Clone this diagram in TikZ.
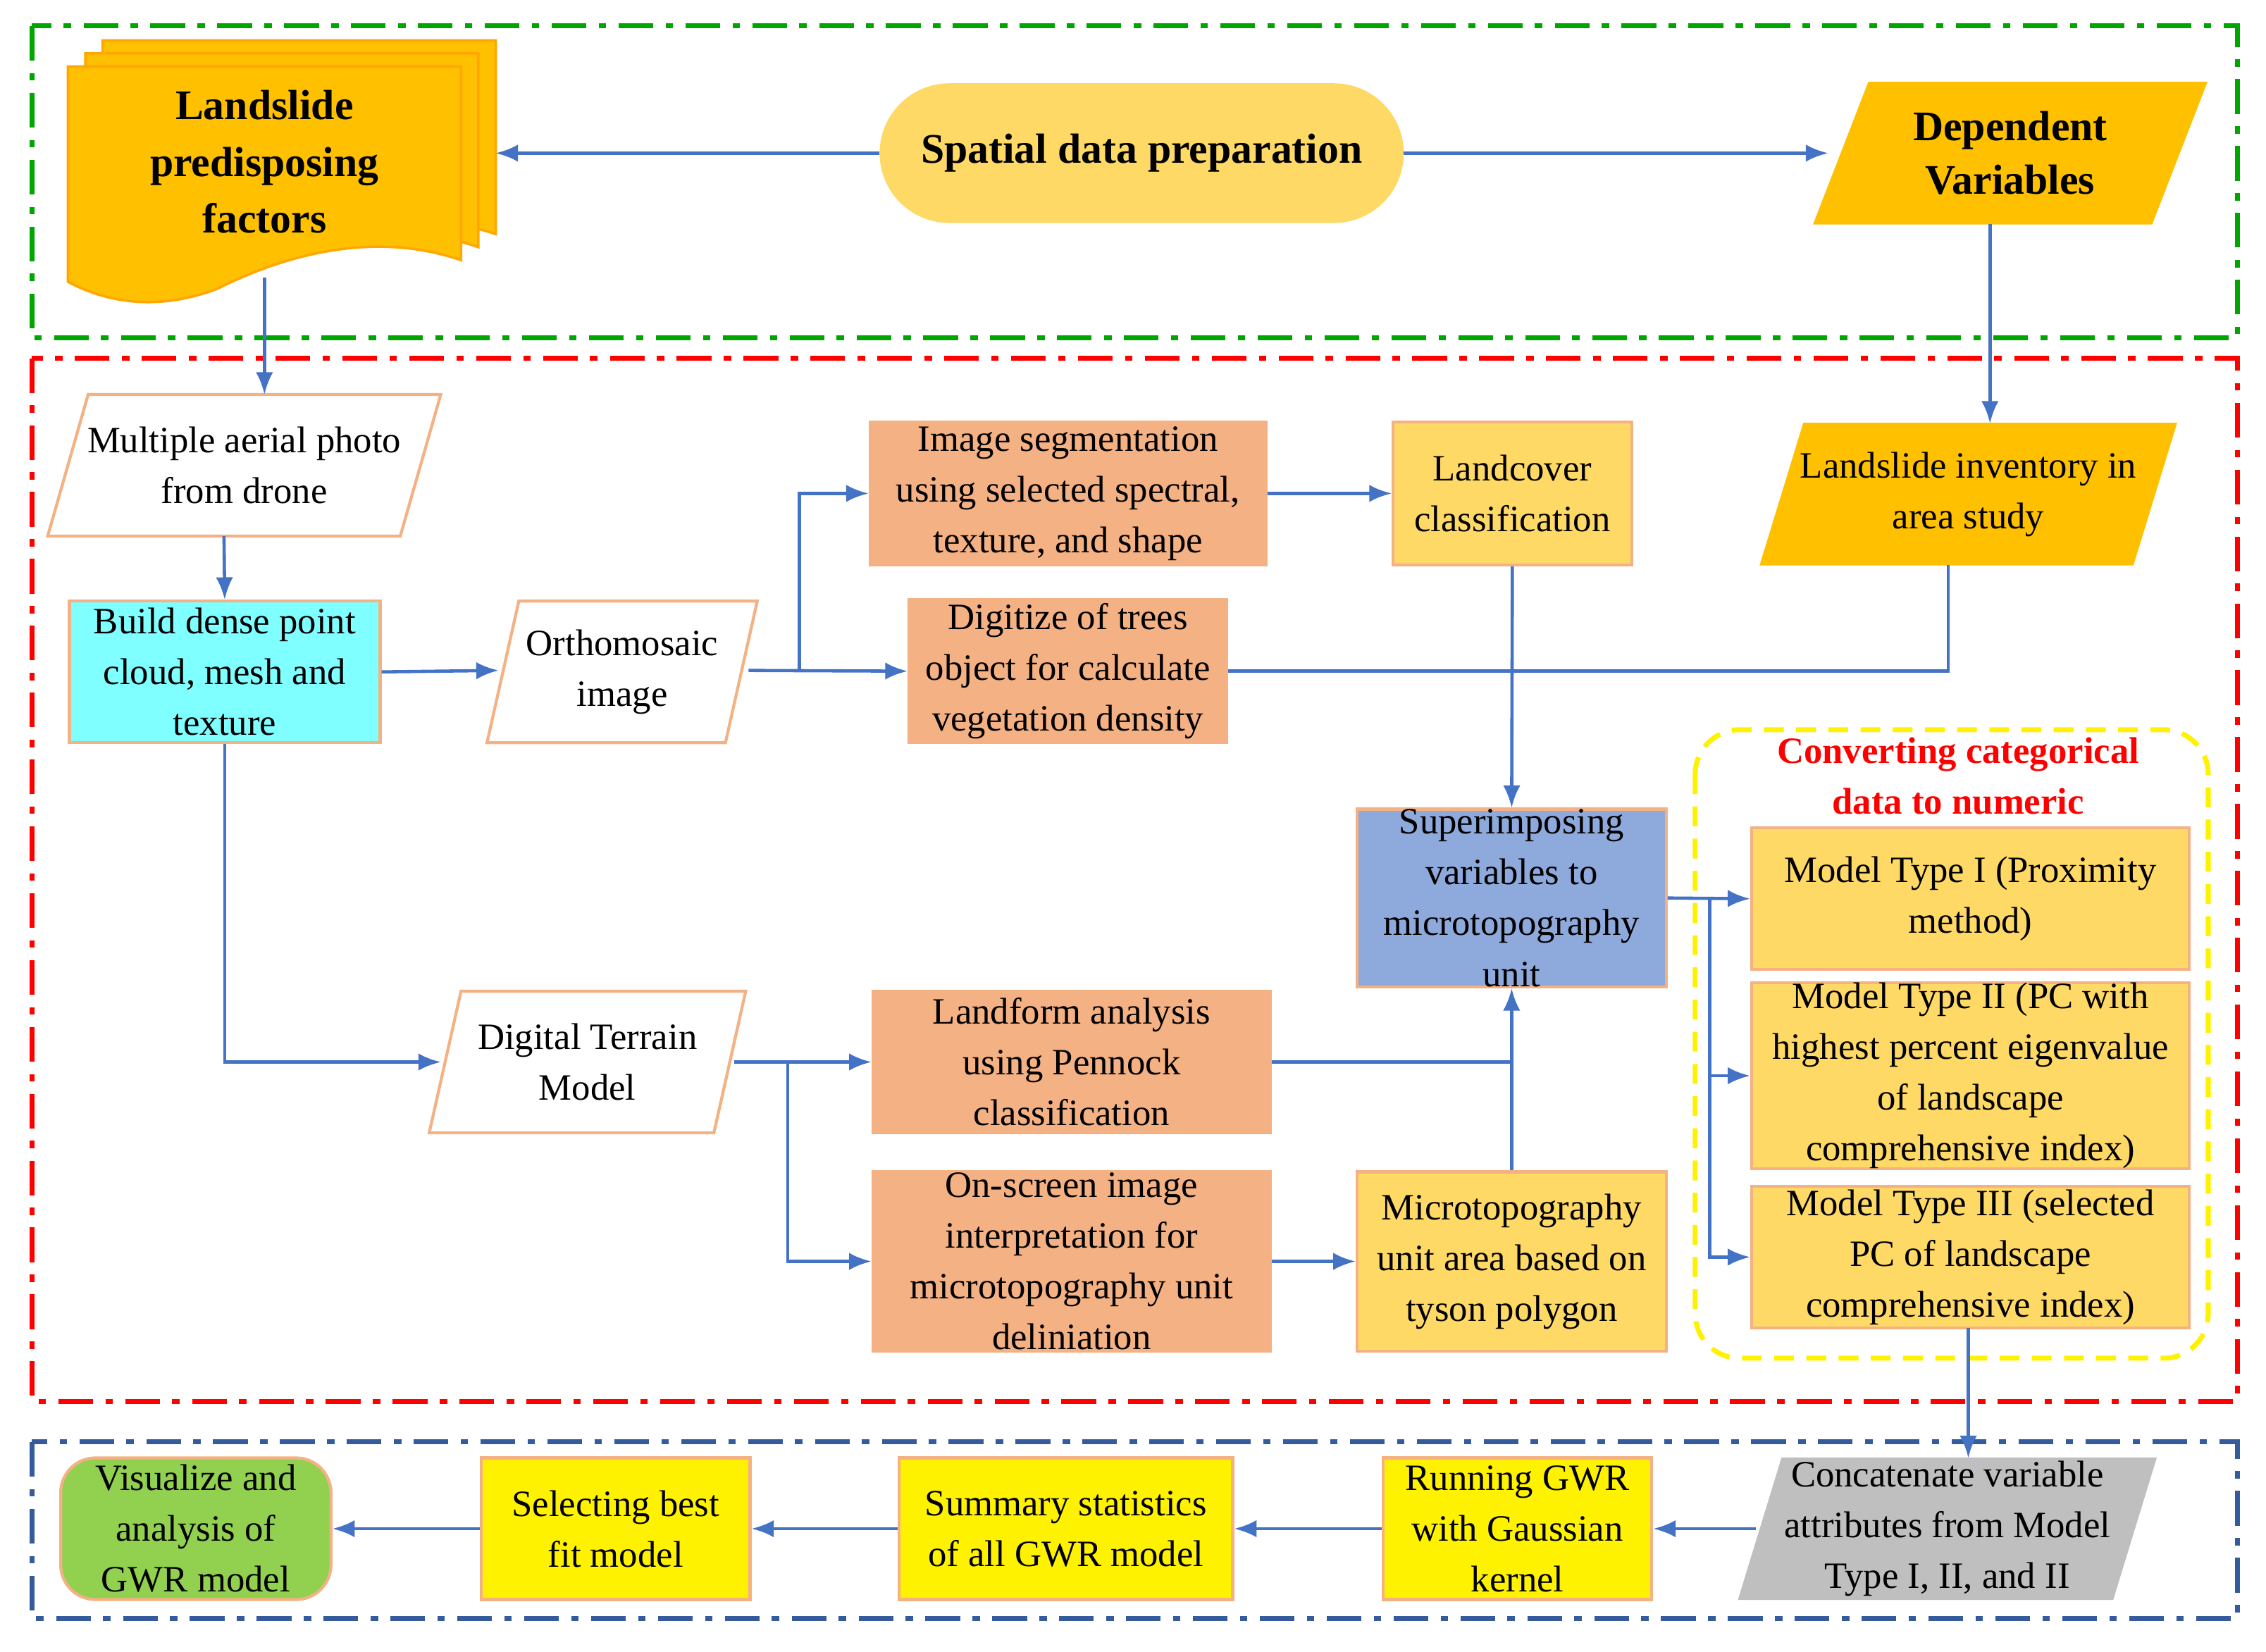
\documentclass[tikz,border=0pt]{standalone}
\usepackage{fontspec}
\setmainfont{Liberation Serif}
\usetikzlibrary{arrows.meta}
\definecolor{cor}{HTML}{F4B183}
\definecolor{cyl}{HTML}{FFD966}
\definecolor{cgo}{HTML}{FFC000}
\definecolor{cbl}{HTML}{4472C4}
\definecolor{cbd}{HTML}{F4B183}
\definecolor{cpur}{HTML}{8EA9DB}
\definecolor{ccy}{HTML}{7FFFFF}
\definecolor{cgr}{HTML}{92D050}
\definecolor{cgy}{HTML}{BFBFBF}
\newcommand\bx[7]{\node[#6, minimum width={(#4-#2)*0.02051cm}, minimum height={(#5-#3)*0.02051cm}] (#1) at ({(#2+#4)/2},{(#3+#5)/2}) {#7};}
\newcommand\pg[8]{\draw[#7] ({#2+#6},#3)--(#4,#3)--({#4-#6},#5)--(#2,#5)--cycle; \node[txt] (#1) at ({(#2+#4)/2},{(#3+#5)/2}) {#8};}
\tikzset{
 txt/.style={align=center,font=\fontsize{15}{17.5}\selectfont,inner sep=0pt},
 box/.style={txt,draw=cbd,line width=1.2pt},
 arr/.style={-{Latex[length=9pt,width=7pt]},cbl,line width=1.3pt},
 ln/.style={cbl,line width=1.3pt},
 frame/.style={line width=2pt,dash pattern=on 14pt off 5pt on 3pt off 5pt},
}
\begin{document}
\begin{tikzpicture}[x=0.02051cm,y=-0.02051cm]
\useasboundingbox (0,0) rectangle (1568,1143);
% frames
\draw[frame,green!65!black] (22,18) rectangle (1548,234);
\draw[frame,red] (22,248) rectangle (1548,970);
\draw[frame,cbl!80!black] (22,998) rectangle (1548,1120);
\draw[yellow,line width=2pt,dash pattern=on 8pt off 5pt,rounded corners=18pt] (1173,505) rectangle (1528,940);
% multidocument
\foreach \dx/\dy in {24/-18,12/-9,0/0}{
\draw[cgo!60!orange,fill=cgo,line width=1pt,shift={(\dx,\dy)}] (47,46)--(319,46)--(319,180) .. controls (260,160) and (200,175) .. (150,200) .. controls (110,215) and (75,210) .. (47,195) -- cycle;}
\node[txt,font=\bfseries\fontsize{17}{19}\selectfont] (lpf) at (183,112) {Landslide\\[4pt]predisposing\\[4pt]factors};
\coordinate (lpfb) at (183,192);
\coordinate (lpfr) at (343,106);
\bx{sdp}{609}{58}{971}{154}{txt,fill=cyl,draw=cyl,rounded corners=28pt,font=\bfseries\fontsize{17}{19}\selectfont}{Spatial data preparation}
\pg{dv}{1255}{57}{1527}{155}{38}{fill=cgo,draw=cgo}{\bfseries\fontsize{17}{19}\selectfont Dependent\\[4pt]\bfseries\fontsize{17}{19}\selectfont Variables}
\pg{map}{33}{273}{305}{371}{28}{draw=cbd,line width=1.2pt,fill=white}{Multiple aerial photo\\[3pt]from drone}
\bx{bld}{48}{416}{263}{514}{box,fill=ccy}{Build dense point\\[3pt]cloud, mesh and\\[3pt]texture}
\pg{ort}{337}{416}{524}{514}{22}{draw=cbd,line width=1.2pt,fill=white}{Orthomosaic\\[3pt]image}
\bx{seg}{602}{292}{876}{391}{box,fill=cor}{Image segmentation\\[3pt]using selected spectral,\\[3pt]texture, and shape}
\bx{lcc}{964}{292}{1129}{391}{box,fill=cyl}{Landcover\\[3pt]classification}
\pg{inv}{1218}{293}{1506}{391}{30}{fill=cgo,draw=cgo}{Landslide inventory in\\[3pt]area study}
\bx{dig}{629}{415}{849}{514}{box,fill=cor}{Digitize of trees\\[3pt]object for calculate\\[3pt]vegetation density}
\bx{sup}{939}{560}{1153}{683}{box,fill=cpur}{Superimposing\\[3pt]variables to\\[3pt]microtopography\\[3pt]unit}
\node[txt,text=red,font=\bfseries\fontsize{15}{17.5}\selectfont] (cvt) at (1355,537) {Converting categorical\\[3pt]data to numeric};
\bx{m1}{1212}{573}{1515}{671}{box,fill=cyl}{Model Type I (Proximity\\[3pt]method)}
\bx{m2}{1212}{683}{1515}{806}{box,fill=cyl}{Model Type II (PC with\\[3pt]highest percent eigenvalue\\[3pt]of landscape\\[3pt]comprehensive index)}
\bx{m3}{1212}{821}{1515}{919}{box,fill=cyl}{Model Type III (selected\\[3pt]PC of landscape\\[3pt]comprehensive index)}
\pg{dtm}{297}{686}{516}{784}{22}{draw=cbd,line width=1.2pt,fill=white}{Digital Terrain\\[3pt]Model}
\bx{lfa}{604}{686}{879}{784}{box,fill=cor}{Landform analysis\\[3pt]using Pennock\\[3pt]classification}
\bx{osi}{604}{811}{879}{935}{box,fill=cor}{On-screen image\\[3pt]interpretation for\\[3pt]microtopography unit\\[3pt]deliniation}
\bx{mua}{939}{811}{1153}{935}{box,fill=cyl}{Microtopography\\[3pt]unit area based on\\[3pt]tyson polygon}
\pg{cat}{1203}{1009}{1492}{1107}{30}{fill=cgy,draw=cgy}{Concatenate variable\\[3pt]attributes from Model\\[3pt]Type I, II, and II}
\bx{run}{957}{1009}{1143}{1107}{box,fill=yellow}{Running GWR\\[3pt]with Gaussian\\[3pt]kernel}
\bx{sum}{622}{1009}{853}{1107}{box,fill=yellow}{Summary statistics\\[3pt]of all GWR model}
\bx{sel}{333}{1009}{519}{1107}{box,fill=yellow}{Selecting best\\[3pt]fit model}
\bx{vis}{42}{1009}{229}{1107}{box,fill=cgr,rounded corners=14pt}{Visualize and\\[3pt]analysis of\\[3pt]GWR model}
% connectors
\draw[arr] (sdp.west) -- (lpfr);
\draw[arr] (sdp.east) -- (1265,106);
\draw[arr] (lpfb) -- (183,273);
\draw[arr] (1377,155) -- (1377,293);
\draw[arr] (155,371) -- (bld.north);
\draw[arr] (bld.east) -- (345,464);
\draw[arr] (518,464) -- (dig.west);
\draw[arr] (553,464) |- (seg.west);
\draw[arr] (seg.east) -- (lcc.west);
\draw[arr] (lcc.south) -- (sup.north);
\draw[ln] (dig.east) -| (1348,391);
\draw[arr] (bld.south) |- (305,735);
\draw[arr] (508,735) -- (lfa.west);
\draw[arr] (545,735) |- (osi.west);
\draw[arr] (lfa.east) -| (sup.south);
\draw[ln] (mua.north) -- (1046,735);
\draw[arr] (osi.east) -- (mua.west);
\draw[arr] (sup.east) -- (m1.west);
\draw[arr] (1183,622) |- (m2.west);
\draw[arr] (1183,622) |- (m3.west);
\draw[arr] (1362,919) -- (1362,1009);
\draw[arr] (1215,1058) -- (run.east);
\draw[arr] (run.west) -- (sum.east);
\draw[arr] (sum.west) -- (sel.east);
\draw[arr] (sel.west) -- (vis.east);
\end{tikzpicture}
\end{document}
